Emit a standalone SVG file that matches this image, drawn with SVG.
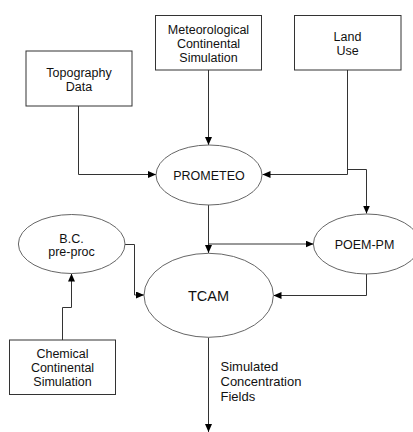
<svg xmlns="http://www.w3.org/2000/svg" width="413" height="432" viewBox="0 0 413 432">
<defs>
<marker id="ah" viewBox="0 0 8 7" refX="8" refY="3.5" markerWidth="8" markerHeight="7" markerUnits="userSpaceOnUse" orient="auto">
<path d="M0,0 L8,3.5 L0,7 Z" fill="#000"/>
</marker>
<style>
.box{fill:#fff;stroke:#333;stroke-width:1}
.ell{fill:#fff;stroke:#666;stroke-width:1}
.t{font-family:"Liberation Sans",Arial,sans-serif;font-size:12.5px;fill:#111;text-anchor:middle}
.c{fill:none;stroke:#333;stroke-width:1;marker-end:url(#ah)}
.p{fill:none;stroke:#333;stroke-width:1}
</style>
</defs>
<rect width="413" height="432" fill="#fff"/>
<g id="connectors">
<path class="c" d="M208.5,70 V145"/>
<path class="c" d="M78.5,106 V174.5 H156"/>
<path class="c" d="M347.5,70 V174.5 H262.5"/>
<path class="c" d="M347.5,169.5 H366.5 V213.5"/>
<path class="c" d="M208.5,205 V253"/>
<path class="c" d="M208.5,244 H313.5"/>
<path class="c" d="M125,244.5 H134.5 V295 H144"/>
<path class="c" d="M366.5,274 V295.5 H273.5"/>
<path class="c" d="M62.5,340 V307.5 H71.5 V273.5"/>
<path class="c" d="M208.5,337.5 V432"/>
</g>
<g id="topography">
<rect class="box" x="26" y="51" width="106" height="55"/>
<text class="t" x="79" y="76.5">Topography</text>
<text class="t" x="79" y="90.5">Data</text>
</g>
<g id="meteo">
<rect class="box" x="155.5" y="15.5" width="106" height="54.5"/>
<text class="t" x="208.5" y="33.5">Meteorological</text>
<text class="t" x="208.5" y="47.5">Continental</text>
<text class="t" x="208.5" y="61.5">Simulation</text>
</g>
<g id="landuse">
<rect class="box" x="294.5" y="15.5" width="106.5" height="54.5"/>
<text class="t" x="347.5" y="40.5">Land</text>
<text class="t" x="347.5" y="54.5">Use</text>
</g>
<g id="prometeo">
<ellipse class="ell" cx="209" cy="175" rx="53" ry="30"/>
<text class="t" x="209" y="179.5">PROMETEO</text>
</g>
<g id="poem">
<ellipse class="ell" cx="366.7" cy="244" rx="53.3" ry="30"/>
<text class="t" x="364.5" y="248.5">POEM-PM</text>
</g>
<g id="bc">
<ellipse class="ell" cx="71.7" cy="244" rx="53.3" ry="29.5"/>
<text class="t" x="71.5" y="242.5">B.C.</text>
<text class="t" x="71.5" y="256">pre-proc</text>
</g>
<g id="tcam">
<ellipse class="ell" cx="208.7" cy="295.3" rx="64.7" ry="42"/>
<text class="t" x="208.5" y="301" style="font-size:14.5px">TCAM</text>
</g>
<g id="chemical">
<rect class="box" x="9.5" y="340" width="106" height="54.5"/>
<text class="t" x="62.5" y="358">Chemical</text>
<text class="t" x="62.5" y="372">Continental</text>
<text class="t" x="62.5" y="385.5">Simulation</text>
</g>
<g id="label">
<text class="t" x="220.5" y="371" style="text-anchor:start;font-size:13px">Simulated</text>
<text class="t" x="220.5" y="386" style="text-anchor:start;font-size:13px">Concentration</text>
<text class="t" x="220.5" y="401" style="text-anchor:start;font-size:13px">Fields</text>
</g>
</svg>
